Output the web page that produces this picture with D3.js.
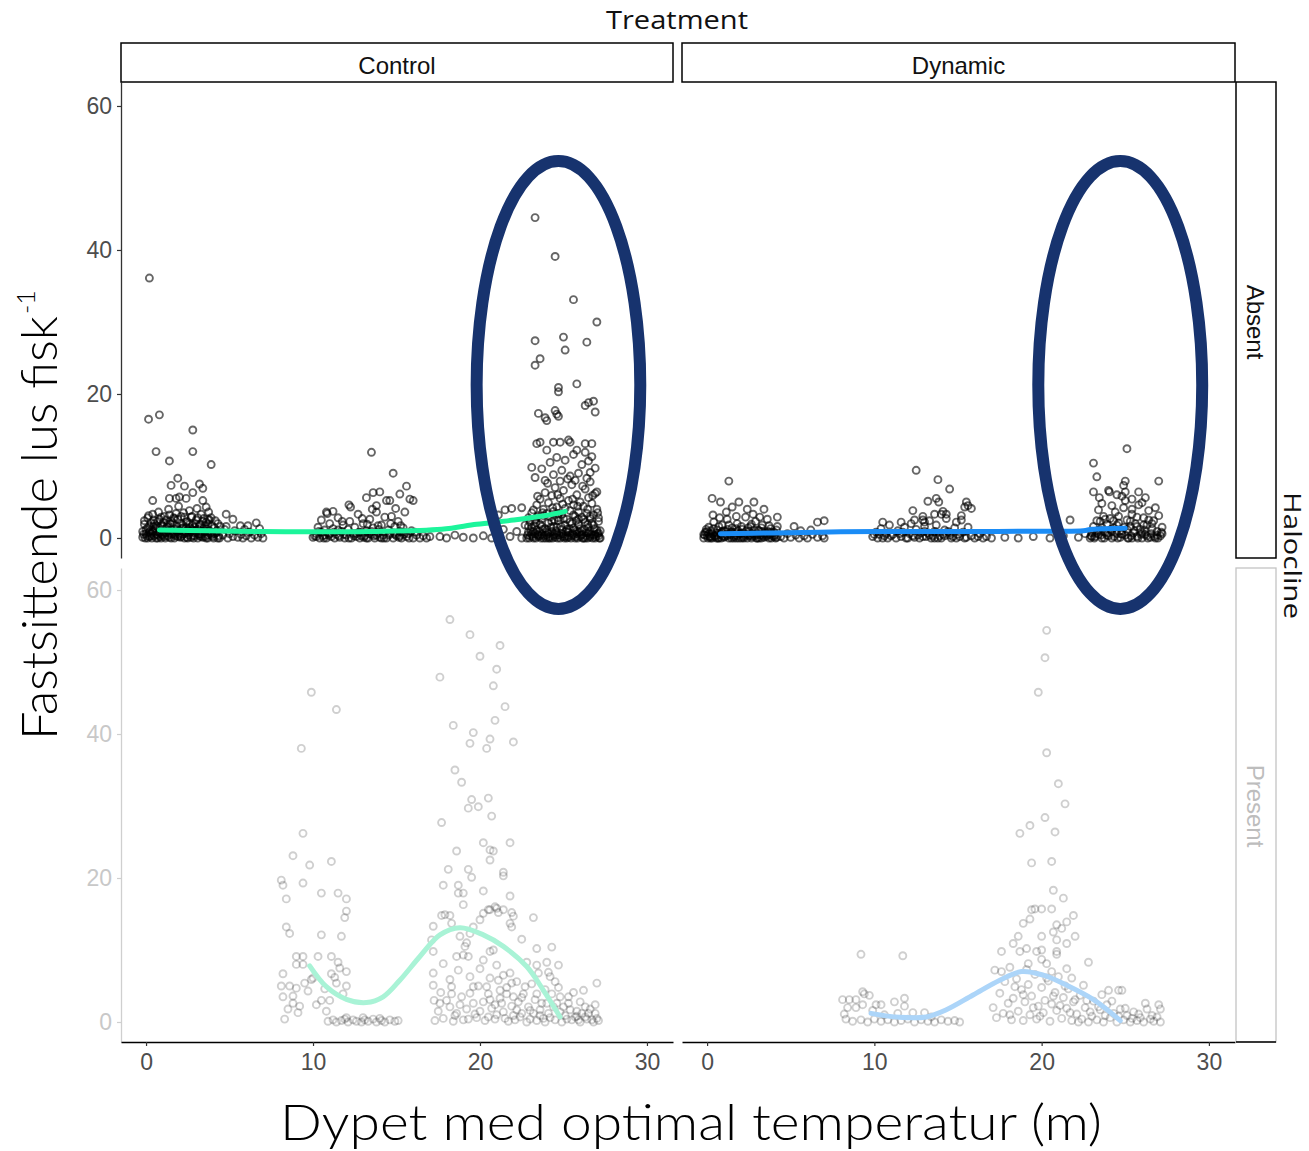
<!DOCTYPE html>
<html><head><meta charset="utf-8">
<script src="https://cdn.jsdelivr.net/npm/d3@7"></script>
<style>body{margin:0;background:#fff}</style>
</head><body><svg id="chart" width="1309" height="1151"></svg>
<script>
// ---------- facets & ticks ----------
const treatments = ["Control", "Dynamic"];
const haloclines = ["Absent", "Present"];
const xTicks = [0, 10, 20, 30];
const yTicks = [0, 20, 40, 60];
const facetTitle = "Treatment";
const rowTitle = "Halocline";
const xTitle = "Dypet med optimal temperatur (m)";
const yTitle = "Fastsittende lus fisk";
const yTitleSup = "-1";

// ---------- observations [depth, lice per fish] ----------
const controlAbsent = [
[0.2,36.1],[0.15,16.5],[0.8,17.1],[2.8,15.0],[0.6,12.0],[2.8,12.0],[1.4,10.7],[3.9,10.2],[1.9,8.3],[1.5,7.3],[2.3,7.2],[3.2,7.5],[3.4,6.9],[2.8,6.3],[0.4,5.2],[1.4,5.5],[1.8,5.5],[2.0,5.7],[2.4,5.5],[3.4,5.2],[3.6,4.3],[4.8,3.3],[5.2,2.6],[5.65,1.7],[6.1,1.7],[6.6,2.1],
[-0.2,0.1],[0.0,0.6],[0.1,1.4],[0.2,0.2],[0.3,2.1],[0.4,0.9],[0.5,0.3],[0.6,1.7],[0.7,0.0],[0.8,2.6],[0.9,1.1],[1.0,0.4],[1.1,3.0],[1.2,0.8],[1.3,1.9],[1.4,0.1],[1.5,2.4],[1.6,0.6],[1.7,1.3],[1.8,3.4],[1.9,0.2],[2.0,1.0],[2.1,2.0],[2.2,0.5],[2.3,2.9],[2.4,1.5],[2.5,0.0],[2.6,3.8],[2.7,0.9],[2.8,1.8],[2.9,0.3],[3.0,2.5],[3.1,1.2],[3.2,0.6],[3.3,3.3],[3.4,0.1],[3.5,1.6],[3.6,2.2],[3.7,0.4],[3.8,1.0],[3.9,2.8],[4.0,0.2],[4.1,1.4],[4.2,0.7],[4.3,2.0],[4.4,0.0],
[-0.1,1.9],[0.05,0.3],[0.15,3.1],[0.25,1.0],[0.35,0.0],[0.45,2.5],[0.55,1.3],[0.65,0.5],[0.75,3.6],[0.85,0.2],[0.95,1.8],[1.05,2.2],[1.15,0.0],[1.25,1.5],[1.35,4.0],[1.45,0.7],[1.55,1.1],[1.65,2.8],[1.75,0.3],[1.85,1.6],[1.95,4.4],[2.05,0.1],[2.15,1.3],[2.25,3.5],[2.35,0.8],[2.45,2.3],[2.55,0.4],[2.65,1.4],[2.75,3.0],[2.85,0.0],[2.95,1.1],[3.05,4.1],[3.15,0.5],[3.25,1.9],[3.35,0.9],[3.45,2.7],[3.55,0.2],[3.65,1.3],[3.75,3.6],[3.85,0.6],[3.95,1.7],[4.05,0.0],[4.15,2.4],[4.25,1.0],[4.35,0.3],[4.45,1.6],
[-0.15,0.5],[0.1,0.0],[0.3,0.6],[0.5,1.0],[0.7,0.4],[0.9,0.0],[1.1,0.7],[1.3,0.3],[1.5,0.0],[1.7,0.5],[1.9,0.9],[2.1,0.2],[2.3,0.6],[2.5,1.1],[2.7,0.1],[2.9,0.7],[3.1,0.0],[3.3,0.5],[3.5,0.9],[3.7,0.0],[3.9,0.4],[4.1,0.6],[4.3,0.0],
[-0.2,0.9],[-0.1,2.4],[0.0,1.2],[0.1,2.8],[0.2,1.6],[0.3,0.3],[0.4,3.3],[0.5,2.0],[0.6,0.0],[0.7,1.5],[0.8,0.7],[0.9,2.9],[1.0,1.6],[1.1,0.2],[1.2,2.5],[1.3,1.0],[1.4,3.2],[1.5,0.5],[1.6,2.1],[1.7,0.0],[1.8,1.1],[1.9,2.6],[2.0,0.4],[2.1,3.0],[2.2,1.4],[2.3,0.0],[2.4,2.2],[2.5,0.7],[2.6,1.9],[2.7,2.9],[2.8,0.3],[2.9,1.5],[3.0,0.9],[3.1,2.8],[3.2,1.7],[3.3,0.2],[3.4,2.3],[3.5,1.0],[3.6,0.0],[3.7,1.9],[3.8,2.5],
[-0.05,0.0],[0.2,0.8],[0.45,1.6],[0.7,2.3],[0.95,0.5],[1.2,1.3],[1.45,2.0],[1.7,2.7],[1.95,0.6],[2.2,1.8],[2.45,0.1],[2.7,1.2],[2.95,2.0],[3.2,0.3],[3.45,1.3],[3.7,2.6],[3.95,0.8],
[4.6,0.4],[4.7,1.2],[4.9,0.0],[5.0,0.6],[5.2,0.2],[5.3,1.0],[5.5,0.1],[5.7,0.5],[5.8,0.0],[6.0,0.3],[6.2,0.8],[6.3,0.0],[6.5,0.4],[6.7,0.1],[6.9,0.6],[7.0,0.0],[4.8,1.6],[5.9,1.2],[6.8,1.3],
[13.5,11.9],[14.8,9.0],[15.6,7.2],[13.2,5.6],[13.6,6.3],[14.0,6.4],[15.2,6.1],[10.8,3.6],[11.2,3.7],[12.15,4.6],[12.25,4.3],[13.8,4.5],[14.4,5.2],[14.6,5.2],[15.8,5.4],[16.0,5.2],
[10.0,0.1],[10.2,0.6],[10.3,1.5],[10.4,0.0],[10.5,2.5],[10.6,0.3],[10.7,1.1],[10.8,0.0],[10.9,0.7],[11.0,2.0],[11.1,0.2],[11.2,1.3],[11.3,0.0],[11.4,0.5],[11.5,2.8],[11.6,0.1],[11.7,0.9],[11.8,1.8],[11.9,0.0],[12.0,0.4],[12.1,1.2],[12.2,2.3],[12.3,0.0],[12.4,0.6],[12.5,1.5],[12.6,0.2],[12.7,3.3],[12.8,0.0],[12.9,0.8],[13.0,2.0],[13.1,0.3],[13.2,1.0],[13.3,0.0],[13.4,2.6],[13.5,0.5],[13.6,1.4],[13.7,0.0],[13.8,3.6],[13.9,0.7],[14.0,0.1],[14.1,1.8],[14.2,0.4],[14.3,2.9],[14.4,0.0],[14.5,1.1],[14.6,0.6],[14.7,3.0],[14.8,0.0],[14.9,1.6],[15.0,0.3],[15.1,2.3],[15.2,0.9],[15.3,0.0],[15.4,1.4],[15.5,3.6],[15.6,0.2],[15.7,0.6],[15.9,1.0],[16.0,0.0],[16.2,0.4],[16.4,0.0],[16.6,0.3],[16.8,0.0],[17.0,0.2],
[10.1,0.3],[10.35,0.9],[10.65,0.0],[10.95,0.4],[11.25,0.8],[11.55,0.3],[11.85,0.5],[12.15,0.0],[12.45,0.3],[12.75,0.8],[13.05,0.1],[13.35,0.6],[13.65,0.3],[13.95,1.2],[14.25,0.0],[14.55,0.4],[14.85,0.7],[15.15,0.1],[15.45,0.5],[15.75,0.0],[16.1,0.8],[13.25,1.9],[12.95,2.7],[14.65,2.0],[15.25,1.7],[11.75,2.3],[10.85,3.4],[13.55,4.0],[14.95,4.1],
[10.2,0.2],[10.5,0.8],[10.7,0.4],[12.6,0.6],[12.9,0.3],[13.2,0.0],[13.5,0.9],[13.8,0.4],[14.1,0.0],[14.9,0.5],[15.2,0.3],[15.4,0.8],[11.0,0.6],[11.5,1.1],[13.9,1.7],
[17.6,0.2],[18.0,0.0],[18.5,0.4],[19.0,0.1],[19.6,0.0],[20.2,0.3],[20.7,0.0],[21.1,0.5],[21.1,3.2],[21.5,3.9],[21.9,4.1],[22.5,4.2],[21.4,1.2],[21.8,0.2],[22.2,0.9],[22.5,0.0],[22.7,1.8],[23.1,9.8],
[23.3,44.5],[24.5,39.1],[25.6,33.1],[27.0,30.0],[23.3,27.4],[25.0,27.9],[25.1,26.1],[26.4,27.2],[23.6,24.9],[23.3,24.0],[24.7,20.9],[24.7,20.3],[25.8,21.4],[26.3,18.4],[26.5,18.8],[26.8,19.0],[26.9,17.5],[23.5,17.3],[23.9,16.7],[24.0,16.3],[24.5,17.7],[24.6,17.2],[24.7,16.9],[23.4,13.1],[23.6,13.3],[24.0,12.2],[24.4,13.3],[24.8,13.3],[25.3,13.6],[25.4,13.3],[25.8,12.2],[26.3,13.1],[26.7,13.1],[26.3,11.9],[26.5,10.7],[26.6,9.1],[26.6,7.8],[27.0,6.4],
[22.8,0.0],[22.9,0.8],[23.0,0.3],[23.1,1.5],[23.2,0.0],[23.3,0.6],[23.4,1.1],[23.5,0.2],[23.6,1.9],[23.7,0.5],[23.8,0.0],[23.9,1.3],[24.0,0.4],[24.1,2.1],[24.2,0.0],[24.3,0.9],[24.4,1.6],[24.5,0.1],[24.6,0.7],[24.7,2.4],[24.8,0.0],[24.9,1.2],[25.0,0.5],[25.1,1.8],[25.2,0.0],[25.3,0.8],[25.4,2.2],[25.5,0.3],[25.6,1.4],[25.7,0.0],[25.8,0.6],[25.9,1.9],[26.0,0.2],[26.1,1.0],[26.2,2.6],[26.3,0.0],[26.4,0.7],[26.5,1.5],[26.6,0.1],[26.7,2.0],[26.8,0.4],[26.9,0.0],[27.0,1.1],[27.1,0.3],[27.2,0.0],
[22.85,0.4],[22.95,0.0],[23.05,1.0],[23.15,0.2],[23.25,1.7],[23.35,0.0],[23.45,0.4],[23.55,0.9],[23.65,0.0],[23.75,1.2],[23.85,0.3],[23.95,0.0],[24.05,0.8],[24.15,0.2],[24.25,1.5],[24.35,0.0],[24.45,0.5],[24.55,1.0],[24.65,0.0],[24.75,0.4],[24.85,1.6],[24.95,0.2],[25.05,0.0],[25.15,0.9],[25.25,0.3],[25.35,1.3],[25.45,0.0],[25.55,0.6],[25.65,1.1],[25.75,0.2],[25.85,0.0],[25.95,0.8],[26.05,0.4],[26.15,0.0],[26.25,1.2],[26.35,0.3],[26.45,0.0],[26.55,0.9],[26.65,0.5],[26.75,0.0],[26.85,1.3],[26.95,0.2],[27.05,0.6],[27.15,0.0],
[22.9,1.6],[23.0,2.2],[23.2,0.9],[23.4,2.9],[23.5,0.5],[23.7,1.6],[23.8,3.1],[24.0,1.1],[24.1,0.0],[24.3,2.3],[24.4,0.3],[24.6,1.5],[24.7,3.4],[24.9,0.6],[25.0,2.7],[25.2,1.2],[25.3,0.1],[25.5,2.0],[25.6,3.2],[25.8,0.9],[25.9,2.6],[26.0,1.3],[26.2,0.0],[26.3,2.2],[26.5,0.7],[26.6,3.0],[26.8,1.8],[26.9,0.5],[27.1,2.3],[27.2,1.0],
[23.1,0.5],[23.6,0.3],[24.1,0.6],[24.6,0.4],[25.1,0.2],[25.6,0.4],[26.1,0.5],[26.6,0.3],[27.1,0.7],[23.35,2.1],[24.45,2.5],[25.75,2.4],[26.45,1.9],
[22.9,2.8],[23.1,3.5],[23.3,2.5],[23.4,4.6],[23.5,3.1],[23.6,5.4],[23.7,2.7],[23.8,4.0],[23.9,6.3],[24.0,3.4],[24.1,4.9],[24.2,2.9],[24.3,5.9],[24.4,3.7],[24.5,7.0],[24.6,4.3],[24.7,2.8],[24.8,5.5],[24.9,3.3],[25.0,6.6],[25.1,4.1],[25.2,2.6],[25.3,5.2],[25.4,3.8],[25.5,7.4],[25.6,4.6],[25.7,3.0],[25.8,6.0],[25.9,3.6],[26.0,5.0],[26.1,2.9],[26.2,4.4],[26.3,6.8],[26.4,3.4],[26.5,5.6],[26.6,2.7],[26.7,4.8],[26.8,3.2],[26.9,6.2],[27.0,4.0],[27.1,2.8],
[23.2,3.9],[23.45,5.8],[23.75,3.5],[24.05,7.6],[24.35,4.2],[24.65,6.0],[24.95,4.7],[25.25,8.2],[25.55,5.4],[25.85,4.4],[26.15,7.2],[26.45,4.0],[26.75,5.9],[27.05,3.5],
[23.3,8.4],[23.7,9.6],[23.9,8.0],[24.2,10.5],[24.4,8.8],[24.6,11.2],[24.9,9.4],[25.1,10.8],[25.4,8.6],[25.6,11.6],[25.9,9.0],[26.1,10.2],[26.4,8.3],[26.7,11.3],[26.9,9.7],[24.8,7.9],[25.7,8.0]
];

const dynamicAbsent = [
[1.3,7.9],[0.3,5.5],[0.8,5.0],[1.9,5.0],[2.8,5.0],[2.4,4.0],[1.5,4.3],[3.4,4.0],[4.2,2.9],[5.2,1.6],[6.6,2.2],[7.0,2.4],
[-0.2,0.0],[-0.1,0.8],[0.0,0.3],[0.1,1.5],[0.2,0.0],[0.3,0.6],[0.4,2.2],[0.5,0.2],[0.6,1.1],[0.7,0.0],[0.8,0.5],[0.9,1.8],[1.0,0.1],[1.1,0.9],[1.2,2.6],[1.3,0.0],[1.4,0.4],[1.5,1.4],[1.6,0.2],[1.7,0.8],[1.8,2.0],[1.9,0.0],[2.0,0.6],[2.1,1.2],[2.2,0.3],[2.3,2.9],[2.4,0.0],[2.5,0.9],[2.6,1.6],[2.7,0.2],[2.8,0.5],[2.9,2.3],[3.0,0.0],[3.1,1.0],[3.2,0.4],[3.3,1.8],[3.4,0.1],[3.5,0.7],[3.6,2.6],[3.7,0.0],[3.8,1.3],[3.9,0.3],[4.0,0.8],[4.1,0.0],[4.2,1.6],
[-0.15,0.4],[0.05,0.0],[0.25,1.0],[0.45,0.3],[0.65,0.0],[0.85,0.7],[1.05,0.2],[1.25,1.2],[1.45,0.0],[1.65,0.4],[1.85,1.0],[2.05,0.0],[2.25,0.5],[2.45,1.4],[2.65,0.0],[2.85,0.3],[3.05,1.1],[3.25,0.0],[3.45,0.5],[3.65,0.9],[3.85,0.0],[4.05,0.4],[0.35,3.2],[1.15,3.6],[2.75,3.3],[3.15,2.9],[1.75,3.0],[0.75,2.8],
[0.15,0.2],[0.55,0.0],[0.95,0.3],[1.35,0.6],[1.75,0.0],[2.15,0.1],[2.55,0.4],[2.95,0.0],[3.35,0.3],[3.75,0.5],[4.15,0.1],
[-0.2,0.5],[-0.05,1.2],[0.1,0.6],[0.25,0.2],[0.4,1.3],[0.55,0.7],[0.7,1.6],[0.85,0.0],[1.0,1.0],[1.15,0.5],[1.3,1.8],[1.45,0.8],[1.6,0.0],[1.75,1.3],[1.9,0.6],[2.05,1.6],[2.2,0.0],[2.35,1.0],[2.5,0.3],[2.65,1.9],[2.8,1.1],[2.95,0.6],[3.1,0.0],[3.25,1.4],[3.4,0.7],[3.55,0.2],[3.7,1.7],[3.85,0.8],[4.0,0.2],[4.15,1.1],
[0.0,0.9],[0.3,0.0],[0.6,0.4],[0.9,0.9],[1.2,0.3],[1.5,0.8],[1.8,0.3],[2.1,0.7],[2.4,0.5],[2.7,0.6],[3.0,0.4],[3.3,0.9],[3.6,0.4],[3.9,0.6],
[4.4,0.2],[4.6,0.0],[4.8,0.6],[5.0,0.1],[5.3,0.4],[5.5,0.0],[5.8,0.3],[6.0,0.0],[6.3,0.5],[6.6,0.1],[6.9,0.3],[7.0,0.0],[6.2,1.1],[5.6,1.0],
[12.5,9.4],[13.8,8.1],[14.5,6.8],[13.2,5.1],[13.7,5.5],[13.85,5.0],[12.3,3.8],[15.5,5.0],[15.6,4.5],[15.4,4.3],[15.8,4.1],[10.5,2.2],[11.6,2.2],[12.4,2.5],[12.9,2.5],[13.6,3.3],[14.0,3.3],[14.3,3.3],[15.2,3.1],[15.2,2.5],
[9.9,0.2],[10.1,0.8],[10.2,0.0],[10.4,1.3],[10.6,0.3],[10.8,0.0],[10.9,1.8],[11.1,0.5],[11.3,0.0],[11.4,1.0],[11.6,0.2],[11.8,1.5],[11.9,0.0],[12.1,0.6],[12.2,2.0],[12.4,0.1],[12.5,1.2],[12.7,0.0],[12.8,0.7],[13.0,1.6],[13.1,0.2],[13.3,2.4],[13.4,0.0],[13.6,0.9],[13.7,1.8],[13.9,0.3],[14.0,0.0],[14.2,1.1],[14.3,2.7],[14.5,0.4],[14.6,0.0],[14.8,1.4],[14.9,2.2],[15.1,0.2],[15.3,0.8],[15.4,0.0],[15.6,1.5],[15.8,0.3],[16.0,0.0],[16.3,0.6],[16.5,0.0],[16.7,0.2],[17.0,0.0],
[10.0,0.5],[10.5,0.0],[11.0,0.3],[11.5,0.6],[12.0,0.0],[12.6,0.4],[13.2,0.7],[13.5,0.3],[13.8,0.0],[14.1,0.5],[14.4,0.9],[14.7,0.2],[15.0,0.5],[15.5,0.1],[16.2,0.2],[12.9,3.0],[14.1,3.7],[13.0,2.2],
[10.3,0.5],[10.7,0.6],[12.3,0.3],[12.9,0.2],[13.3,0.4],[13.6,0.0],[14.2,0.3],[14.5,0.7],[14.9,0.0],[13.0,0.9],[11.7,0.8],
[17.8,0.1],[18.6,0.0],[19.5,0.2],[20.5,0.0],[21.3,0.3],[21.7,2.5],[22.2,0.1],[22.6,0.6],
[25.1,12.4],[23.1,10.4],[23.3,8.5],[27.0,7.9],[25.0,7.9],[24.9,7.3],[25.0,6.4],[23.1,6.4],[25.8,6.4],[25.4,5.4],[24.0,6.6],[24.05,6.4],[23.45,5.6],[24.5,6.0],
[22.9,0.0],[23.0,0.7],[23.1,1.6],[23.2,0.2],[23.3,2.4],[23.4,0.5],[23.5,1.1],[23.6,0.0],[23.7,3.0],[23.8,0.8],[23.9,1.9],[24.0,0.3],[24.1,2.7],[24.2,0.0],[24.3,1.4],[24.4,3.6],[24.5,0.6],[24.6,2.1],[24.7,0.1],[24.8,1.0],[24.9,4.2],[25.0,0.4],[25.1,2.5],[25.2,0.0],[25.3,1.6],[25.4,3.3],[25.5,0.7],[25.6,2.0],[25.7,0.2],[25.8,4.6],[25.9,1.2],[26.0,0.0],[26.1,2.8],[26.2,0.5],[26.3,1.8],[26.4,3.8],[26.5,0.1],[26.6,1.3],[26.7,2.4],[26.8,0.0],[26.9,0.9],[27.0,3.1],[27.1,0.3],[27.2,1.5],
[22.95,0.3],[23.15,0.0],[23.35,1.0],[23.55,0.4],[23.75,0.0],[23.95,0.7],[24.15,1.2],[24.35,0.2],[24.55,0.0],[24.75,0.6],[24.95,1.5],[25.15,0.0],[25.35,0.3],[25.55,1.0],[25.75,0.0],[25.95,0.5],[26.15,1.1],[26.35,0.0],[26.55,0.6],[26.75,0.2],[26.95,0.0],[27.15,0.8],
[23.0,0.2],[23.3,0.7],[23.6,1.5],[23.9,0.4],[24.2,0.9],[24.5,1.8],[24.8,0.5],[25.1,1.2],[25.4,0.0],[25.7,1.6],[26.0,0.7],[26.3,0.3],[26.6,2.0],[26.9,0.4],[27.2,0.6],[23.5,2.3],[24.3,2.4],[25.3,2.3],[26.1,1.8],
[23.4,3.9],[23.8,2.6],[24.2,4.5],[24.6,3.0],[25.0,5.2],[25.4,4.0],[25.7,2.9],[26.0,4.9],[26.4,2.5],[26.8,4.2],[23.6,4.8],[24.8,5.8],[26.2,5.6]
];

const controlPresent = [
[18.2,55.9],[19.4,53.8],[21.2,52.3],[20.0,50.8],[21.0,49.0],[17.6,47.9],[20.8,46.7],[9.9,45.8],[11.4,43.4],[21.5,43.8],[20.9,41.9],[18.4,41.2],[19.6,40.2],[20.6,39.3],[19.4,38.7],[22.0,38.9],[20.4,38.0],[9.3,38.0],[18.5,35.0],[18.9,33.3],[19.5,30.9],[20.5,31.1],[19.3,29.7],[19.9,29.9],[20.7,28.6],[17.7,27.7],[9.4,26.2],[20.2,24.9],[21.8,24.9],[18.6,23.75],[20.6,23.9],[20.8,23.75],[8.8,23.1],[9.8,21.8],[11.1,22.3],[20.6,22.5],[18.1,21.2],[19.3,21.2],[19.5,20.1],[21.4,20.8],[21.4,20.3],[8.1,19.7],[8.2,19.0],[9.4,19.3],[17.8,19.0],[18.7,19.0],[18.7,17.9],[19.0,17.9],[20.2,18.2],[10.5,17.9],[11.5,17.9],[8.4,17.1],[12.0,17.1],[21.8,17.5],[19.0,16.3],[12.0,15.4],[11.9,14.5],[23.2,14.5],[20.6,15.6],[20.9,16.0],[17.7,14.8],[18.2,14.8],[21.1,15.2],[21.4,15.6],[21.9,15.2],[22.0,14.7],[8.4,13.2],[8.6,12.3],[10.5,12.1],[11.7,11.9],[21.9,13.2],[22.5,11.5],[17.2,13.3],[23.4,10.2],[24.3,10.4],[27.0,5.4],[26.2,4.4],[24.7,7.9],[24.0,8.3],[24.1,6.9],[23.4,7.9],[22.8,8.3],
[8.2,6.7],[8.1,5.0],[8.2,3.5],[8.6,5.0],[9.0,9.1],[9.0,8.0],[9.4,8.0],[9.4,9.1],[9.5,5.4],[8.8,2.6],[9.1,1.3],[10.3,9.1],[11.1,9.1],[9.9,5.9],[10.5,3.0],[11.0,3.0],[11.1,6.7],[11.4,5.4],[11.6,7.5],[12.0,5.0],[8.3,0.4],
[8.5,1.8],[8.8,3.6],[9.2,2.2],[9.7,4.3],[10.0,6.1],[10.2,2.4],[10.7,4.6],[11.3,6.2],[11.8,3.9],[12.0,7.0],[11.5,8.3],[10.8,1.5],[9.0,4.7],
[10.9,0.1],[11.2,0.3],[11.4,0.0],[11.7,0.2],[11.9,0.4],[12.1,0.0],[12.4,0.3],[12.6,0.1],[12.9,0.0],[13.1,0.3],[13.3,0.1],[13.6,0.4],[13.8,0.0],[14.1,0.2],[14.3,0.0],[14.6,0.3],[14.9,0.1],[15.1,0.2],[12.0,0.6],[13.0,0.6],[14.0,0.5],
[17.1,11.4],[17.2,9.8],[17.2,6.8],[17.2,5.1],[17.25,3.0],[17.65,4.1],[17.8,8.1],[18.2,5.9],[18.3,4.9],[18.3,3.9],[18.2,2.1],[18.5,0.9],[18.6,9.1],[19.0,9.3],[19.1,10.5],[19.2,11.0],[19.3,9.1],[19.4,6.3],[19.6,4.9],[19.6,2.6],[20.0,7.4],[20.2,8.6],[20.4,4.9],[20.5,3.9],[20.6,3.1],[20.6,9.8],[20.8,10.0],[21.0,7.9],[21.1,5.8],[21.2,4.4],[21.3,2.6],[21.4,1.4],[21.5,0.5],[21.6,3.9],[21.8,6.8],[21.9,5.4],[22.0,3.5],[22.2,1.7],[22.4,0.7],[22.6,3.9],[22.7,4.9],[22.9,2.1],[23.2,1.2],[23.3,3.1],[23.4,3.9],[23.5,6.8],[23.6,1.7],[23.8,0.5],[24.0,2.6],[24.2,6.3],[24.3,3.9],[24.4,2.1],[24.6,2.6],[24.8,3.5],[25.0,2.1],[25.1,0.9],[25.3,2.6],[25.4,1.7],[25.7,0.7],[25.9,0.3],[26.1,1.2],[26.3,2.1],[26.5,1.2],[26.7,0.3],[26.9,2.4],[27.0,0.5],[19.4,12.3],[19.6,13.2],[20.0,14.2],[20.2,15.1],[20.5,15.6],[21.0,15.8],[21.8,13.7],[18.8,11.9],[18.3,13.7],[17.9,14.9],
[17.3,0.2],[17.8,0.5],[18.4,0.1],[19.0,0.3],[19.8,0.6],[20.3,0.2],[20.9,0.4],[21.7,0.1],[22.1,0.3],[22.8,0.0],[23.0,0.4],[23.4,0.2],[23.9,0.0],[24.5,0.3],[24.9,0.0],[25.5,0.3],[26.0,0.0],[26.4,0.4],[26.8,0.0],[27.1,0.2],[22.5,1.2],[21.0,1.0],[20.0,1.5],[19.2,1.8],[24.1,1.2],[25.8,1.5],[26.6,1.8],[18.9,3.5],[20.9,2.4],[22.3,2.8],[23.7,2.6],[19.9,5.0],[21.4,6.5],[22.2,5.6],[18.7,7.2],[20.6,6.1],[23.1,5.3],[24.7,4.8],[25.6,4.1],
[17.5,1.5],[18.0,3.0],[18.8,2.4],[19.4,4.0],[19.7,1.1],[20.2,2.8],[20.7,1.9],[21.2,3.3],[21.9,2.2],[22.5,3.4],[23.0,1.6],[23.6,0.9],[24.2,0.6],[24.8,1.4],[25.2,0.4],[25.8,0.8],[26.3,0.7],[26.9,1.2],[22.0,0.9],[20.5,0.7],[19.3,0.4],[18.6,1.2],[17.6,2.6],[21.6,4.8],[23.9,4.5],[24.5,5.6],[25.3,3.5],[26.0,2.8]
];

const dynamicPresent = [
[20.3,54.4],[20.2,50.6],[19.8,45.8],[20.3,37.4],[21.0,33.1],[21.4,30.3],[20.2,28.4],[19.3,27.3],[18.7,26.2],[20.8,26.4],[19.4,22.1],[20.6,22.3],[20.7,18.3],[21.3,17.2],[19.4,15.6],[19.6,15.7],[20.0,15.7],[20.6,15.7],[21.9,14.8],[18.9,13.7],[19.3,14.3],[20.9,13.5],[21.2,13.0],[21.5,13.9],[18.6,11.9],[18.3,10.9],[20.0,11.9],[20.7,12.5],[20.9,11.4],[21.5,10.9],[22.0,11.9],
[18.7,9.8],[19.1,10.2],[19.7,9.8],[20.0,10.0],[20.9,9.8],[20.9,9.4],[17.6,9.8],[9.2,9.4],[11.7,9.2],[22.8,8.3],
[17.2,7.2],[18.1,7.6],[19.2,8.1],[20.0,8.7],[20.3,8.1],[21.5,7.4],[21.8,6.1],[24.0,4.4],[24.6,4.4],[24.8,4.4],
[8.1,3.1],[8.5,3.1],[8.9,3.1],[9.3,4.2],[9.4,3.9],[9.7,3.7],[9.3,2.4],[8.9,2.0],[8.4,2.0],[8.2,1.1],[10.1,2.4],[10.4,2.4],[11.2,2.8],[11.8,3.3],[11.8,2.2],[12.3,1.3],[13.0,1.3],
[8.3,0.4],[8.7,0.1],[9.2,0.3],[9.6,0.0],[10.0,0.4],[10.4,0.1],[10.8,0.3],[11.2,0.0],[11.6,0.2],[12.0,0.4],[12.4,0.0],[12.8,0.3],[13.2,0.1],[13.6,0.0],[14.0,0.3],[14.4,0.1],[14.8,0.2],[15.1,0.0],[10.6,1.0],[9.9,1.6],[11.4,1.2],[13.4,0.7],
[17.1,2.0],[17.3,0.6],[17.5,4.0],[17.7,1.2],[17.8,5.6],[18.0,2.6],[18.2,0.3],[18.3,3.3],[18.5,6.0],[18.6,1.5],[18.8,4.5],[18.9,0.2],[19.0,2.8],[19.2,5.2],[19.3,1.0],[19.4,3.6],[19.6,6.6],[19.7,0.4],[19.8,2.2],[20.0,4.8],[20.1,1.3],[20.2,3.0],[20.4,5.7],[20.5,0.1],[20.6,2.5],[20.8,4.1],[20.9,1.6],[21.0,6.3],[21.2,0.5],[21.3,3.4],[21.5,1.9],[21.6,4.6],[21.8,0.2],[21.9,2.8],[22.1,1.1],[22.3,3.7],[22.4,0.4],[22.6,2.0],[22.8,0.0],[22.9,1.4],[23.1,2.9],[23.3,0.3],[23.5,1.7],[23.7,0.0],[23.9,2.4],[24.1,0.6],[24.3,1.2],[24.5,0.0],[24.7,1.8],[24.9,0.3],[25.1,0.9],[25.3,0.0],[25.5,1.4],[25.7,0.2],[25.9,0.6],[26.1,0.0],[26.3,1.8],[26.5,0.4],[26.7,0.1],[26.9,0.7],[27.1,0.0],[26.2,2.6],[27.0,2.4],[27.1,1.8],
[18.1,1.0],[18.4,4.9],[18.9,3.8],[19.5,2.0],[19.9,0.8],[20.3,6.1],[20.7,3.6],[21.1,2.3],[21.4,5.0],[21.7,1.3],[22.0,3.1],[22.2,0.0],[22.7,3.0],[23.0,0.8],[23.4,2.1],[23.8,0.9],[24.2,2.9],[24.6,0.8],[25.0,1.9],[25.4,0.5],[25.8,1.1],[26.6,0.9],[17.6,7.0],[19.1,7.3],[20.6,7.0],[22.5,5.1],[23.6,3.8]
];

// ---------- smoothed trends ----------
const smoothControlAbsent = [[0.8,1.1],[3.8,1.0],[7,0.9],[10,0.85],[13.4,0.9],[17.7,1.2],[19.8,1.9],[22,2.5],[24.1,3.2],[25.1,3.7]];
const smoothDynamicAbsent = [[0.8,0.6],[4,0.7],[8,0.85],[12,0.9],[16,0.9],[20,0.95],[22.5,1.0],[23,1.2],[25,1.35]];
const smoothControlPresent = [[9.8,7.8],[10.8,4.9],[12.0,3.15],[13.2,2.7],[14.2,3.5],[15.2,5.8],[16.4,9.1],[17.6,12.1],[18.8,13.1],[20.2,12.1],[21.4,10.5],[22.8,7.7],[23.8,4.4],[24.8,0.7]];
const smoothDynamicPresent = [[9.8,1.2],[11.5,0.65],[13.1,0.7],[14.3,1.7],[15.9,3.75],[17.5,5.8],[18.8,7.0],[20.1,6.5],[21.5,5.1],[23.1,3.1],[24.7,0.2]];

// highlighted region (centre depth, centre lice, half-width, half-height) in data units
const highlightRegion = [24.7, 21.25, 4.9, 31.1];

// ---------- layout ----------
const svg = d3.select("#chart");
const cols = [{x0:121, x1:673}, {x0:682, x1:1235}];
const rows = [{y0:82, y1:558}, {y0:568, y1:1042}];
const xScales = cols.map(c => d3.scaleLinear().domain([-1.5, 31.56]).range([c.x0, c.x1]));
const yScales = [
  d3.scaleLinear().domain([-2.78, 63.33]).range([rows[0].y1, rows[0].y0]),
  d3.scaleLinear().domain([-2.78, 63.06]).range([rows[1].y1, rows[1].y0])
];

const panels = [
  {c:0, r:0, pts:controlAbsent, line:smoothControlAbsent, lineColor:"#1cf59b"},
  {c:1, r:0, pts:dynamicAbsent, line:smoothDynamicAbsent, lineColor:"#1a8cf6"},
  {c:0, r:1, pts:controlPresent, line:smoothControlPresent, lineColor:"#a9f3d6"},
  {c:1, r:1, pts:dynamicPresent, line:smoothDynamicPresent, lineColor:"#acd5f9"}
];

panels.forEach(p => {
  const xs = xScales[p.c], ys = yScales[p.r];
  const g = svg.append("g");
  g.selectAll("circle").data(p.pts).enter().append("circle")
    .attr("cx", d => xs(d[0])).attr("cy", d => ys(d[1])).attr("r", 3.5)
    .attr("fill", "none").attr("stroke", "#000")
    .attr("stroke-width", 1.9)
    .attr("stroke-opacity", p.r === 0 ? 0.6 : 0.19);
  const lineGen = d3.line().x(d => xs(d[0])).y(d => ys(d[1])).curve(d3.curveCatmullRom.alpha(0.5));
  g.append("path").datum(p.line).attr("d", lineGen)
    .attr("fill", "none").attr("stroke", p.lineColor).attr("stroke-width", 5)
    .attr("stroke-linecap", "round");
});

// ---------- axes ----------
const yAxisStyles = [{line:"#333", text:"#4d4d4d"}, {line:"#cfcfcf", text:"#c8c8c8"}];
yScales.forEach((ys, i) => {
  const ax = svg.append("g").attr("transform", `translate(${cols[0].x0},0)`)
    .call(d3.axisLeft(ys).tickValues(yTicks).tickSize(4).tickSizeOuter(0).tickPadding(5));
  ax.select(".domain").attr("stroke", yAxisStyles[i].line).attr("stroke-width", 1.3);
  ax.selectAll(".tick line").attr("stroke", yAxisStyles[i].line).attr("stroke-width", 1.2);
  ax.selectAll("text").attr("fill", yAxisStyles[i].text)
    .style("font-family", "'Liberation Sans', Arial, sans-serif").style("font-size", "23px");
});
xScales.forEach(xs => {
  const ax = svg.append("g").attr("transform", `translate(0,${rows[1].y1})`)
    .call(d3.axisBottom(xs).tickValues(xTicks).tickSize(4).tickSizeOuter(0).tickPadding(8));
  ax.select(".domain").attr("stroke", "#000").attr("stroke-width", 1.4);
  ax.selectAll(".tick line").attr("stroke", "#333").attr("stroke-width", 1.2);
  ax.selectAll("text").attr("fill", "#4d4d4d")
    .style("font-family", "'Liberation Sans Narrow', 'Liberation Sans', Arial, sans-serif").style("font-size", "23px");
});

// ---------- strips ----------
const stripFont = "'Liberation Sans', Arial, sans-serif";
treatments.forEach((t, i) => {
  svg.append("rect").attr("x", cols[i].x0).attr("y", 43).attr("width", cols[i].x1 - cols[i].x0).attr("height", 39)
    .attr("fill", "#fff").attr("stroke", "#000").attr("stroke-width", 1.5);
  svg.append("text").attr("x", (cols[i].x0 + cols[i].x1) / 2).attr("y", 74).attr("text-anchor", "middle")
    .style("font-family", stripFont).style("font-size", "24px").attr("fill", "#111").text(t);
});
const stripColors = [{stroke:"#000", text:"#111"}, {stroke:"#c4c4c4", text:"#bdbdbd"}];
haloclines.forEach((h, i) => {
  svg.append("rect").attr("x", 1236).attr("y", rows[i].y0).attr("width", 40).attr("height", rows[i].y1 - rows[i].y0)
    .attr("fill", "#fff").attr("stroke", stripColors[i].stroke).attr("stroke-width", i === 0 ? 1.5 : 1.3);
  const cy = i === 0 ? 322 : 806;
  svg.append("text").attr("transform", `translate(1247,${cy}) rotate(90)`).attr("text-anchor", "middle")
    .style("font-family", stripFont).style("font-size", "24px").attr("fill", stripColors[i].text).text(h);
});
svg.append("line").attr("x1", 1236).attr("x2", 1276).attr("y1", rows[1].y1).attr("y2", rows[1].y1)
  .attr("stroke", "#000").attr("stroke-width", 1.4);

svg.append("text").attr("x", 606).attr("y", 29)
  .attr("textLength", 142).attr("lengthAdjust", "spacingAndGlyphs")
  .style("font-family", "'Open Sans', 'Noto Sans', sans-serif").style("font-size", "25px").attr("fill", "#111").text(facetTitle);
svg.append("text").attr("transform", "translate(1284,492) rotate(90)")
  .attr("textLength", 127).attr("lengthAdjust", "spacingAndGlyphs")
  .style("font-family", "'Open Sans', 'Noto Sans', sans-serif").style("font-size", "24px").attr("fill", "#111").text(rowTitle);

// ---------- axis titles ----------
const titleFont = "Lato, 'Open Sans', sans-serif";
svg.append("text").attr("x", 280).attr("y", 1140)
  .attr("textLength", 822).attr("lengthAdjust", "spacingAndGlyphs")
  .style("font-family", titleFont).style("font-weight", 300).style("font-size", "50px").attr("fill", "#000").text(xTitle);
const yt = svg.append("g").attr("transform", "translate(57,740) rotate(-90)");
yt.append("text").attr("x", 0).attr("y", 0)
  .attr("textLength", 424).attr("lengthAdjust", "spacingAndGlyphs")
  .style("font-family", titleFont).style("font-weight", 300).style("font-size", "50px").attr("fill", "#000").text(yTitle);
yt.append("text").attr("x", 426).attr("y", -22)
  .attr("textLength", 24).attr("lengthAdjust", "spacingAndGlyphs")
  .style("font-family", titleFont).style("font-weight", 300).style("font-size", "26px").attr("fill", "#000").text(yTitleSup);

// ---------- highlight ellipses ----------
xScales.forEach(xs => {
  const ys = yScales[0];
  svg.append("ellipse")
    .attr("cx", xs(highlightRegion[0])).attr("cy", ys(highlightRegion[1]))
    .attr("rx", xs(highlightRegion[0] + highlightRegion[2]) - xs(highlightRegion[0]))
    .attr("ry", ys(highlightRegion[1]) - ys(highlightRegion[1] + highlightRegion[3]))
    .attr("fill", "none").attr("stroke", "#17336e").attr("stroke-width", 12);
});
</script>
</body></html>
